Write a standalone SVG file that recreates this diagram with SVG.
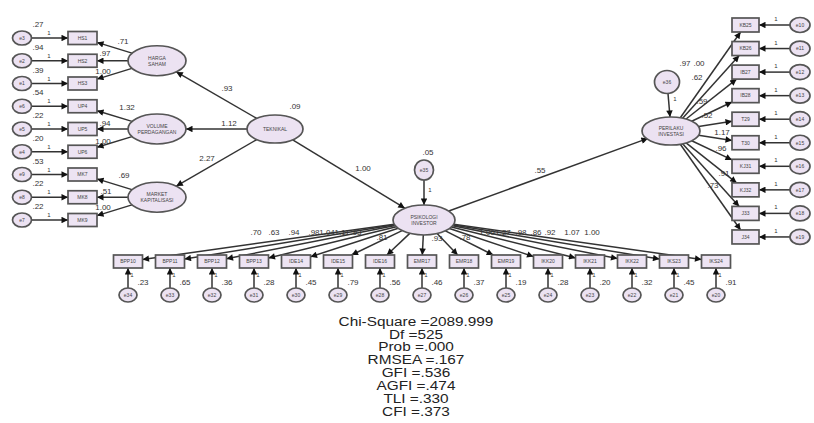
<svg xmlns="http://www.w3.org/2000/svg" width="814" height="423" viewBox="0 0 814 423">
<style>
.lat{fill:#ece2f2;stroke:#555;stroke-width:1.7}
.box{fill:#ede4f3;stroke:#555;stroke-width:1.7}
.err{fill:#ece2f2;stroke:#555;stroke-width:1.7}
.c{stroke:#333;stroke-width:1.5;fill:none;marker-end:url(#a)}
text{font-family:"Liberation Sans",Arial,sans-serif;fill:#333}
.s{font-size:5px;text-anchor:middle;fill:#444}
.n{font-size:8px;text-anchor:middle}
.o{font-size:6px;text-anchor:middle}
.f{font-size:12px;text-anchor:middle;fill:#222}
</style>
<defs>
<marker id="a" viewBox="0 0 10 10" refX="10" refY="5" markerWidth="8" markerHeight="6.5" orient="auto" markerUnits="userSpaceOnUse"><path d="M0,0 L10,5 L0,10 z" fill="#111"/></marker>
</defs>
<rect width="814" height="423" fill="#fff"/>
<g id="connectors">
<line class="c" x1="31.5" y1="38" x2="68" y2="38"/>
<line class="c" x1="31.5" y1="60.75" x2="68" y2="60.75"/>
<line class="c" x1="31.5" y1="83.5" x2="68" y2="83.5"/>
<line class="c" x1="31.5" y1="106.25" x2="68" y2="106.25"/>
<line class="c" x1="31.5" y1="129" x2="68" y2="129"/>
<line class="c" x1="31.5" y1="151.75" x2="68" y2="151.75"/>
<line class="c" x1="31.5" y1="174.5" x2="68" y2="174.5"/>
<line class="c" x1="31.5" y1="197.25" x2="68" y2="197.25"/>
<line class="c" x1="31.5" y1="220" x2="68" y2="220"/>
<line class="c" x1="132" y1="53.1" x2="97" y2="42.4"/>
<line class="c" x1="128" y1="60.75" x2="97" y2="60.75"/>
<line class="c" x1="132" y1="68.4" x2="97" y2="79.1"/>
<line class="c" x1="132" y1="121.4" x2="97" y2="110.7"/>
<line class="c" x1="128" y1="129" x2="97" y2="129"/>
<line class="c" x1="132" y1="136.6" x2="97" y2="147.3"/>
<line class="c" x1="132" y1="189.6" x2="97" y2="178.9"/>
<line class="c" x1="128" y1="197.25" x2="97" y2="197.25"/>
<line class="c" x1="132" y1="204.9" x2="97" y2="215.6"/>
<line class="c" x1="256.7" y1="118.4" x2="176.3" y2="71.9"/>
<line class="c" x1="247" y1="129" x2="186" y2="129"/>
<line class="c" x1="256.7" y1="139.6" x2="176.3" y2="186.1"/>
<line class="c" x1="292.7" y1="139.8" x2="404.8" y2="208.2"/>
<line class="c" x1="424" y1="180" x2="424" y2="205"/>
<line class="c" x1="448.8" y1="211" x2="647.9" y2="138.4"/>
<line class="c" x1="668" y1="93.5" x2="670" y2="117"/>
<line class="c" x1="394.2" y1="224.2" x2="142.5" y2="259.5"/>
<line class="c" x1="394.6" y1="224.8" x2="184.5" y2="259.1"/>
<line class="c" x1="395.3" y1="225.6" x2="226.5" y2="258.7"/>
<line class="c" x1="396.3" y1="226.8" x2="268.5" y2="258"/>
<line class="c" x1="398.2" y1="228.3" x2="310.5" y2="256.8"/>
<line class="c" x1="402.1" y1="230.6" x2="351.5" y2="255"/>
<line class="c" x1="409.8" y1="233.4" x2="386.9" y2="255"/>
<line class="c" x1="423.3" y1="235" x2="422.3" y2="255"/>
<line class="c" x1="437.1" y1="233.6" x2="457.7" y2="255"/>
<line class="c" x1="445.4" y1="230.8" x2="493.2" y2="255"/>
<line class="c" x1="449.5" y1="228.5" x2="533.5" y2="256.6"/>
<line class="c" x1="451.5" y1="226.9" x2="575.5" y2="257.9"/>
<line class="c" x1="452.7" y1="225.7" x2="617.5" y2="258.6"/>
<line class="c" x1="453.3" y1="224.9" x2="659.5" y2="259.1"/>
<line class="c" x1="453.7" y1="224.2" x2="701.5" y2="259.4"/>
<line class="c" x1="128" y1="288" x2="128" y2="268"/>
<line class="c" x1="170" y1="288" x2="170" y2="268"/>
<line class="c" x1="212" y1="288" x2="212" y2="268"/>
<line class="c" x1="254" y1="288" x2="254" y2="268"/>
<line class="c" x1="296" y1="288" x2="296" y2="268"/>
<line class="c" x1="338" y1="288" x2="338" y2="268"/>
<line class="c" x1="380" y1="288" x2="380" y2="268"/>
<line class="c" x1="422" y1="288" x2="422" y2="268"/>
<line class="c" x1="464" y1="288" x2="464" y2="268"/>
<line class="c" x1="506" y1="288" x2="506" y2="268"/>
<line class="c" x1="548" y1="288" x2="548" y2="268"/>
<line class="c" x1="590" y1="288" x2="590" y2="268"/>
<line class="c" x1="632" y1="288" x2="632" y2="268"/>
<line class="c" x1="674" y1="288" x2="674" y2="268"/>
<line class="c" x1="716" y1="288" x2="716" y2="268"/>
<line class="c" x1="680.3" y1="117.7" x2="740.6" y2="32"/>
<line class="c" x1="682.6" y1="118.2" x2="739.2" y2="55.5"/>
<line class="c" x1="686.1" y1="119" x2="736.6" y2="79.1"/>
<line class="c" x1="691.7" y1="121.2" x2="732" y2="102"/>
<line class="c" x1="698.6" y1="126.6" x2="732" y2="121.3"/>
<line class="c" x1="698.6" y1="135.3" x2="732" y2="140.6"/>
<line class="c" x1="691.7" y1="140.8" x2="732" y2="159.9"/>
<line class="c" x1="686.1" y1="142.9" x2="736.6" y2="182.8"/>
<line class="c" x1="682.6" y1="143.8" x2="739.2" y2="206.4"/>
<line class="c" x1="680.3" y1="144.3" x2="740.6" y2="230"/>
<line class="c" x1="790" y1="25" x2="759" y2="25"/>
<line class="c" x1="790" y1="48.55" x2="759" y2="48.55"/>
<line class="c" x1="790" y1="72.1" x2="759" y2="72.1"/>
<line class="c" x1="790" y1="95.65" x2="759" y2="95.65"/>
<line class="c" x1="790" y1="119.2" x2="759" y2="119.2"/>
<line class="c" x1="790" y1="142.75" x2="759" y2="142.75"/>
<line class="c" x1="790" y1="166.3" x2="759" y2="166.3"/>
<line class="c" x1="790" y1="189.85" x2="759" y2="189.85"/>
<line class="c" x1="790" y1="213.4" x2="759" y2="213.4"/>
<line class="c" x1="790" y1="236.95" x2="759" y2="236.95"/>
</g>
<g id="path-labels">
<text class="o" x="49" y="35">1</text><text class="o" x="49" y="57.7">1</text><text class="o" x="49" y="80.5">1</text>
<text class="o" x="49" y="103.2">1</text><text class="o" x="49" y="126">1</text><text class="o" x="49" y="148.7">1</text>
<text class="o" x="49" y="171.5">1</text><text class="o" x="49" y="194.2">1</text><text class="o" x="49" y="217">1</text>
<text class="n" x="38" y="27">.27</text><text class="n" x="38" y="50">.94</text><text class="n" x="38" y="72.5">.39</text>
<text class="n" x="38" y="95.3">.54</text><text class="n" x="38" y="118">.22</text><text class="n" x="38" y="140.8">.20</text>
<text class="n" x="38" y="163.5">.53</text><text class="n" x="38" y="186.3">.22</text><text class="n" x="38" y="209">.22</text>
<text class="n" x="123" y="44">.71</text><text class="n" x="105" y="56">.97</text><text class="n" x="103" y="74">1.00</text>
<text class="n" x="127" y="110">1.32</text><text class="n" x="105" y="126">.94</text><text class="n" x="103" y="144">1.00</text>
<text class="n" x="124" y="178">.69</text><text class="n" x="106" y="194">.51</text><text class="n" x="103" y="210">1.00</text>
<text class="n" x="227" y="91">.93</text><text class="n" x="229" y="126">1.12</text><text class="n" x="207" y="161">2.27</text>
<text class="n" x="295" y="109">.09</text><text class="n" x="363" y="171">1.00</text>
<text class="n" x="428" y="155">.05</text><text class="o" x="430" y="192">1</text>
<text class="n" x="540" y="173">.55</text>
<text class="n" x="685" y="66">.97</text><text class="n" x="699" y="66">.00</text>
<text class="o" x="675" y="101">1</text>
<text class="n" x="697" y="80">.62</text><text class="n" x="702" y="104">.59</text><text class="n" x="707" y="118">.52</text>
<text class="n" x="722" y="135">1.17</text><text class="n" x="721" y="151">.96</text><text class="n" x="724" y="176">.91</text><text class="n" x="713" y="188">.73</text>
<text class="o" x="776" y="21">1</text><text class="o" x="776" y="44.5">1</text><text class="o" x="776" y="68">1</text>
<text class="o" x="776" y="91.6">1</text><text class="o" x="776" y="115">1</text><text class="o" x="776" y="138.7">1</text>
<text class="o" x="776" y="162.3">1</text><text class="o" x="776" y="185.8">1</text><text class="o" x="776" y="209.4">1</text><text class="o" x="776" y="233">1</text>
<text class="n" x="256" y="235">.70</text><text class="n" x="274" y="235">.63</text><text class="n" x="294" y="235">.94</text>
<text class="n" x="314" y="235">.98</text><text class="n" x="327" y="235">1.04</text><text class="n" x="342" y="235">1.11</text><text class="n" x="356" y="235">.93</text>
<text class="n" x="382" y="240">.81</text><text class="n" x="437" y="241">.93</text><text class="n" x="465" y="240">.78</text>
<text class="n" x="487" y="235">1.00</text><text class="n" x="503" y="235">1.27</text><text class="n" x="521" y="235">.98</text><text class="n" x="536" y="235">.86</text>
<text class="n" x="550" y="235">.92</text><text class="n" x="572" y="235">1.07</text><text class="n" x="592" y="235">1.00</text>
<text class="o" x="132" y="277">1</text><text class="o" x="174" y="277">1</text><text class="o" x="216" y="277">1</text><text class="o" x="258" y="277">1</text><text class="o" x="300" y="277">1</text>
<text class="o" x="342" y="277">1</text><text class="o" x="384" y="277">1</text><text class="o" x="426" y="277">1</text><text class="o" x="468" y="277">1</text><text class="o" x="510" y="277">1</text>
<text class="o" x="552" y="277">1</text><text class="o" x="594" y="277">1</text><text class="o" x="636" y="277">1</text><text class="o" x="678" y="277">1</text><text class="o" x="720" y="277">1</text>
<text class="n" x="143" y="285">.23</text><text class="n" x="185" y="285">.65</text><text class="n" x="227" y="285">.36</text><text class="n" x="269" y="285">.28</text><text class="n" x="311" y="285">.45</text>
<text class="n" x="353" y="285">.79</text><text class="n" x="395" y="285">.56</text><text class="n" x="437" y="285">.46</text><text class="n" x="479" y="285">.37</text><text class="n" x="521" y="285">.19</text>
<text class="n" x="563" y="285">.28</text><text class="n" x="605" y="285">.20</text><text class="n" x="647" y="285">.32</text><text class="n" x="689" y="285">.45</text><text class="n" x="731" y="285">.91</text>
</g>
<g id="e3"><ellipse class="err" cx="22" cy="38" rx="9.5" ry="7"/><text class="s" x="22" y="39.8">e3</text></g>
<g id="e2"><ellipse class="err" cx="22" cy="60.75" rx="9.5" ry="7"/><text class="s" x="22" y="62.5">e2</text></g>
<g id="e1"><ellipse class="err" cx="22" cy="83.5" rx="9.5" ry="7"/><text class="s" x="22" y="85.3">e1</text></g>
<g id="e6"><ellipse class="err" cx="22" cy="106.25" rx="9.5" ry="7"/><text class="s" x="22" y="108">e6</text></g>
<g id="e5"><ellipse class="err" cx="22" cy="129" rx="9.5" ry="7"/><text class="s" x="22" y="130.8">e5</text></g>
<g id="e4"><ellipse class="err" cx="22" cy="151.75" rx="9.5" ry="7"/><text class="s" x="22" y="153.5">e4</text></g>
<g id="e9"><ellipse class="err" cx="22" cy="174.5" rx="9.5" ry="7"/><text class="s" x="22" y="176.3">e9</text></g>
<g id="e8"><ellipse class="err" cx="22" cy="197.25" rx="9.5" ry="7"/><text class="s" x="22" y="199">e8</text></g>
<g id="e7"><ellipse class="err" cx="22" cy="220" rx="9.5" ry="7"/><text class="s" x="22" y="221.8">e7</text></g>
<g id="HS1"><rect class="box" x="68" y="31.5" width="29" height="13"/><text class="s" x="82.5" y="39.8">HS1</text></g>
<g id="HS2"><rect class="box" x="68" y="54.25" width="29" height="13"/><text class="s" x="82.5" y="62.5">HS2</text></g>
<g id="HS3"><rect class="box" x="68" y="77" width="29" height="13"/><text class="s" x="82.5" y="85.3">HS3</text></g>
<g id="UP4"><rect class="box" x="68" y="99.75" width="29" height="13"/><text class="s" x="82.5" y="108">UP4</text></g>
<g id="UP5"><rect class="box" x="68" y="122.5" width="29" height="13"/><text class="s" x="82.5" y="130.8">UP5</text></g>
<g id="UP6"><rect class="box" x="68" y="145.25" width="29" height="13"/><text class="s" x="82.5" y="153.5">UP6</text></g>
<g id="MK7"><rect class="box" x="68" y="168" width="29" height="13"/><text class="s" x="82.5" y="176.3">MK7</text></g>
<g id="MK8"><rect class="box" x="68" y="190.75" width="29" height="13"/><text class="s" x="82.5" y="199">MK8</text></g>
<g id="MK9"><rect class="box" x="68" y="213.5" width="29" height="13"/><text class="s" x="82.5" y="221.8">MK9</text></g>
<g id="harga-saham"><ellipse class="lat" cx="157" cy="60.75" rx="29" ry="15"/><text class="s" x="157" y="59.5">HARGA</text><text class="s" x="157" y="65.5">SAHAM</text></g>
<g id="volume-perdagangan"><ellipse class="lat" cx="157" cy="129" rx="29" ry="15"/><text class="s" x="157" y="127.8">VOLUME</text><text class="s" x="157" y="133.8">PERDAGANGAN</text></g>
<g id="market-kapitalisasi"><ellipse class="lat" cx="157" cy="197.25" rx="29" ry="15"/><text class="s" x="157" y="196">MARKET</text><text class="s" x="157" y="202">KAPITALISASI</text></g>
<g id="teknikal"><ellipse class="lat" cx="275" cy="129" rx="28" ry="14"/><text class="s" x="275" y="130.8">TEKNIKAL</text></g>
<g id="e35"><ellipse class="err" cx="424" cy="170" rx="9.5" ry="10"/><text class="s" x="424" y="171.8">e35</text></g>
<g id="psikologi-investor"><ellipse class="lat" cx="424" cy="220" rx="31" ry="15"/><text class="s" x="424" y="218.8">PSIKOLOGI</text><text class="s" x="424" y="224.8">INVESTOR</text></g>
<g id="e36"><ellipse class="err" cx="667" cy="82" rx="12.5" ry="11.5"/><text class="s" x="667" y="83.8">e36</text></g>
<g id="perilaku-investasi"><ellipse class="lat" cx="671" cy="131" rx="29" ry="14"/><text class="s" x="671" y="129.8">PERILAKU</text><text class="s" x="671" y="135.8">INVESTASI</text></g>
<g id="BPP10"><rect class="box" x="113.5" y="255" width="29" height="13"/><text class="s" x="128" y="263.3">BPP10</text></g>
<g id="BPP11"><rect class="box" x="155.5" y="255" width="29" height="13"/><text class="s" x="170" y="263.3">BPP11</text></g>
<g id="BPP12"><rect class="box" x="197.5" y="255" width="29" height="13"/><text class="s" x="212" y="263.3">BPP12</text></g>
<g id="BPP13"><rect class="box" x="239.5" y="255" width="29" height="13"/><text class="s" x="254" y="263.3">BPP13</text></g>
<g id="IDE14"><rect class="box" x="281.5" y="255" width="29" height="13"/><text class="s" x="296" y="263.3">IDE14</text></g>
<g id="IDE15"><rect class="box" x="323.5" y="255" width="29" height="13"/><text class="s" x="338" y="263.3">IDE15</text></g>
<g id="IDE16"><rect class="box" x="365.5" y="255" width="29" height="13"/><text class="s" x="380" y="263.3">IDE16</text></g>
<g id="EMR17"><rect class="box" x="407.5" y="255" width="29" height="13"/><text class="s" x="422" y="263.3">EMR17</text></g>
<g id="EMR18"><rect class="box" x="449.5" y="255" width="29" height="13"/><text class="s" x="464" y="263.3">EMR18</text></g>
<g id="EMR19"><rect class="box" x="491.5" y="255" width="29" height="13"/><text class="s" x="506" y="263.3">EMR19</text></g>
<g id="IKK20"><rect class="box" x="533.5" y="255" width="29" height="13"/><text class="s" x="548" y="263.3">IKK20</text></g>
<g id="IKK21"><rect class="box" x="575.5" y="255" width="29" height="13"/><text class="s" x="590" y="263.3">IKK21</text></g>
<g id="IKK22"><rect class="box" x="617.5" y="255" width="29" height="13"/><text class="s" x="632" y="263.3">IKK22</text></g>
<g id="IKS23"><rect class="box" x="659.5" y="255" width="29" height="13"/><text class="s" x="674" y="263.3">IKS23</text></g>
<g id="IKS24"><rect class="box" x="701.5" y="255" width="29" height="13"/><text class="s" x="716" y="263.3">IKS24</text></g>
<g id="e34"><ellipse class="err" cx="128" cy="295" rx="9" ry="7"/><text class="s" x="128" y="296.8">e34</text></g>
<g id="e33"><ellipse class="err" cx="170" cy="295" rx="9" ry="7"/><text class="s" x="170" y="296.8">e33</text></g>
<g id="e32"><ellipse class="err" cx="212" cy="295" rx="9" ry="7"/><text class="s" x="212" y="296.8">e32</text></g>
<g id="e31"><ellipse class="err" cx="254" cy="295" rx="9" ry="7"/><text class="s" x="254" y="296.8">e31</text></g>
<g id="e30"><ellipse class="err" cx="296" cy="295" rx="9" ry="7"/><text class="s" x="296" y="296.8">e30</text></g>
<g id="e29"><ellipse class="err" cx="338" cy="295" rx="9" ry="7"/><text class="s" x="338" y="296.8">e29</text></g>
<g id="e28"><ellipse class="err" cx="380" cy="295" rx="9" ry="7"/><text class="s" x="380" y="296.8">e28</text></g>
<g id="e27"><ellipse class="err" cx="422" cy="295" rx="9" ry="7"/><text class="s" x="422" y="296.8">e27</text></g>
<g id="e26"><ellipse class="err" cx="464" cy="295" rx="9" ry="7"/><text class="s" x="464" y="296.8">e26</text></g>
<g id="e25"><ellipse class="err" cx="506" cy="295" rx="9" ry="7"/><text class="s" x="506" y="296.8">e25</text></g>
<g id="e24"><ellipse class="err" cx="548" cy="295" rx="9" ry="7"/><text class="s" x="548" y="296.8">e24</text></g>
<g id="e23"><ellipse class="err" cx="590" cy="295" rx="9" ry="7"/><text class="s" x="590" y="296.8">e23</text></g>
<g id="e22"><ellipse class="err" cx="632" cy="295" rx="9" ry="7"/><text class="s" x="632" y="296.8">e22</text></g>
<g id="e21"><ellipse class="err" cx="674" cy="295" rx="9" ry="7"/><text class="s" x="674" y="296.8">e21</text></g>
<g id="e20"><ellipse class="err" cx="716" cy="295" rx="9" ry="7"/><text class="s" x="716" y="296.8">e20</text></g>
<g id="KB25"><rect class="box" x="732" y="18" width="27" height="14"/><text class="s" x="745.5" y="26.8">KB25</text></g>
<g id="KB26"><rect class="box" x="732" y="41.55" width="27" height="14"/><text class="s" x="745.5" y="50.3">KB26</text></g>
<g id="IB27"><rect class="box" x="732" y="65.1" width="27" height="14"/><text class="s" x="745.5" y="73.9">IB27</text></g>
<g id="IB28"><rect class="box" x="732" y="88.65" width="27" height="14"/><text class="s" x="745.5" y="97.4">IB28</text></g>
<g id="T29"><rect class="box" x="732" y="112.2" width="27" height="14"/><text class="s" x="745.5" y="121">T29</text></g>
<g id="T30"><rect class="box" x="732" y="135.75" width="27" height="14"/><text class="s" x="745.5" y="144.5">T30</text></g>
<g id="KJ31"><rect class="box" x="732" y="159.3" width="27" height="14"/><text class="s" x="745.5" y="168.1">KJ31</text></g>
<g id="KJ32"><rect class="box" x="732" y="182.85" width="27" height="14"/><text class="s" x="745.5" y="191.6">KJ32</text></g>
<g id="J33"><rect class="box" x="732" y="206.4" width="27" height="14"/><text class="s" x="745.5" y="215.2">J33</text></g>
<g id="J34"><rect class="box" x="732" y="229.95" width="27" height="14"/><text class="s" x="745.5" y="238.7">J34</text></g>
<g id="e10"><ellipse class="err" cx="800" cy="25" rx="10" ry="7.5"/><text class="s" x="800" y="26.8">e10</text></g>
<g id="e11"><ellipse class="err" cx="800" cy="48.55" rx="10" ry="7.5"/><text class="s" x="800" y="50.3">e11</text></g>
<g id="e12"><ellipse class="err" cx="800" cy="72.1" rx="10" ry="7.5"/><text class="s" x="800" y="73.9">e12</text></g>
<g id="e13"><ellipse class="err" cx="800" cy="95.65" rx="10" ry="7.5"/><text class="s" x="800" y="97.4">e13</text></g>
<g id="e14"><ellipse class="err" cx="800" cy="119.2" rx="10" ry="7.5"/><text class="s" x="800" y="121">e14</text></g>
<g id="e15"><ellipse class="err" cx="800" cy="142.75" rx="10" ry="7.5"/><text class="s" x="800" y="144.5">e15</text></g>
<g id="e16"><ellipse class="err" cx="800" cy="166.3" rx="10" ry="7.5"/><text class="s" x="800" y="168.1">e16</text></g>
<g id="e17"><ellipse class="err" cx="800" cy="189.85" rx="10" ry="7.5"/><text class="s" x="800" y="191.6">e17</text></g>
<g id="e18"><ellipse class="err" cx="800" cy="213.4" rx="10" ry="7.5"/><text class="s" x="800" y="215.2">e18</text></g>
<g id="e19"><ellipse class="err" cx="800" cy="236.95" rx="10" ry="7.5"/><text class="s" x="800" y="238.7">e19</text></g>
<g id="fit-statistics" transform="translate(416,0) scale(1.28,1)">
<text class="f" x="0" y="325.7">Chi-Square =2089.999</text>
<text class="f" x="0" y="338.6">Df =525</text>
<text class="f" x="0" y="351.4">Prob =.000</text>
<text class="f" x="0" y="364.3">RMSEA =.167</text>
<text class="f" x="0" y="377.1">GFI =.536</text>
<text class="f" x="0" y="390">AGFI =.474</text>
<text class="f" x="0" y="402.8">TLI =.330</text>
<text class="f" x="0" y="415.7">CFI =.373</text>
</g>
</svg>
